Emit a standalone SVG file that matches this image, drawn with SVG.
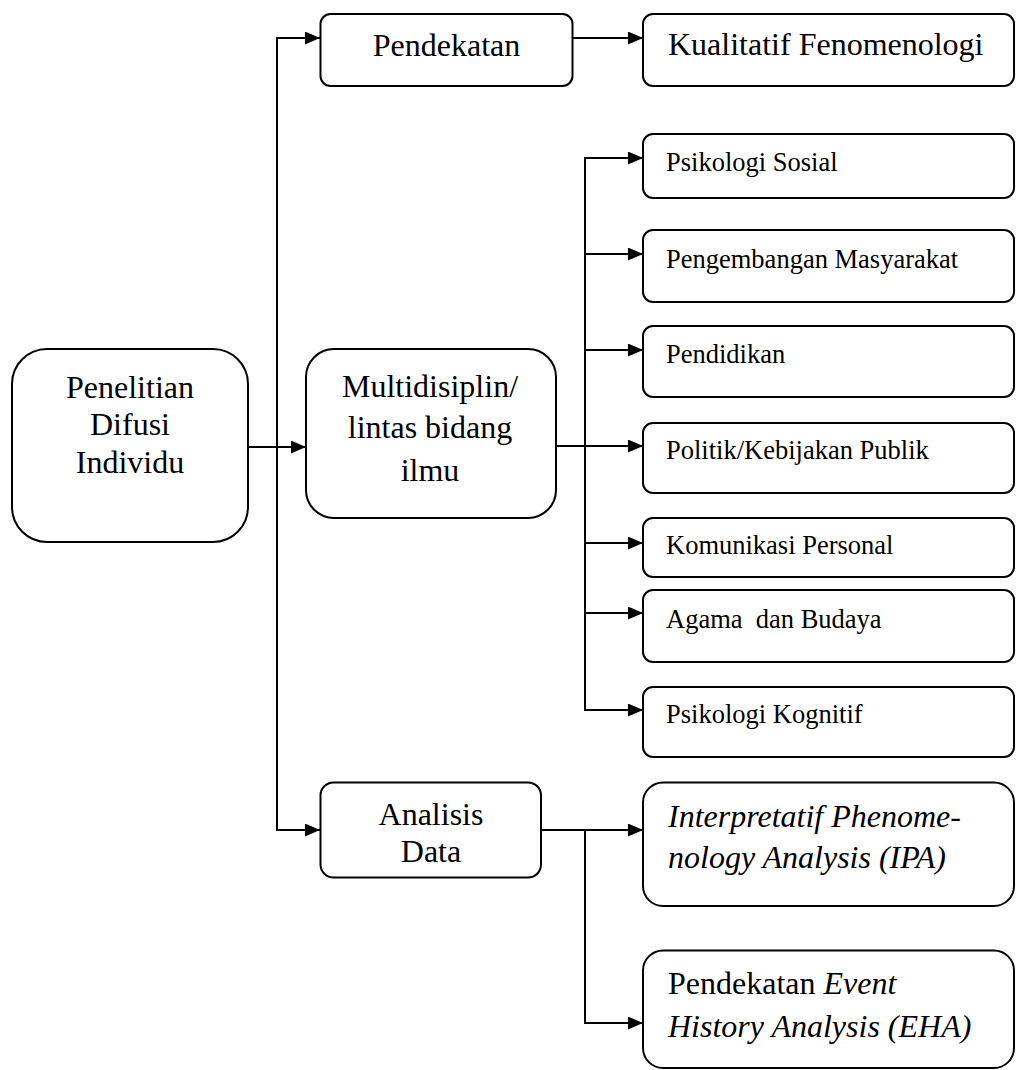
<svg xmlns="http://www.w3.org/2000/svg" width="1016" height="1070" viewBox="0 0 1016 1070">
<style>
.box{fill:#fff;stroke:#000;stroke-width:2}
.big{font-family:"Liberation Serif","Times New Roman",serif;font-size:32px;fill:#000}
.sm{font-family:"Liberation Serif","Times New Roman",serif;font-size:26.5px;fill:#000}
.c{text-anchor:middle}
.it{font-style:italic}
.ln{fill:none;stroke:#000;stroke-width:2}
.ar{fill:none;stroke:#000;stroke-width:2;marker-end:url(#ah)}
</style>
<defs>
<marker id="ah" markerUnits="userSpaceOnUse" markerWidth="15" markerHeight="13" refX="15" refY="6.5" orient="auto">
<path d="M0,0 L15,6.5 L0,13 Z" fill="#000"/>
</marker>
</defs>
<rect width="1016" height="1070" fill="#fff"/>
<g id="connectors">
<path class="ln" d="M277,38 V830"/>
<path class="ar" d="M276,38 H320"/>
<path class="ar" d="M248,447 H306"/>
<path class="ar" d="M276,830 H320"/>
<path class="ar" d="M571,38 H643"/>
<path class="ln" d="M585,158 V710"/>
<path class="ar" d="M584,158 H643"/>
<path class="ar" d="M584,254 H643"/>
<path class="ar" d="M584,350 H643"/>
<path class="ar" d="M556,446 H643"/>
<path class="ar" d="M584,543 H643"/>
<path class="ar" d="M584,613 H643"/>
<path class="ar" d="M584,710 H643"/>
<path class="ar" d="M541,830 H643"/>
<path class="ar" d="M585,830 V1023 H643"/>
</g>
<g id="root">
<rect class="box" x="12" y="349" width="236" height="193" rx="35"/>
<text class="big c" x="130" y="398">Penelitian</text>
<text class="big c" x="130" y="435">Difusi</text>
<text class="big c" x="130" y="473">Individu</text>
</g>
<g id="pendekatan">
<rect class="box" x="320.5" y="14" width="252" height="72" rx="10"/>
<text class="big c" x="446.5" y="56">Pendekatan</text>
</g>
<g id="kualitatif">
<rect class="box" x="643" y="14" width="371" height="72" rx="10"/>
<text class="big" x="668" y="55">Kualitatif Fenomenologi</text>
</g>
<g id="multidisiplin">
<rect class="box" x="306" y="349" width="250" height="169" rx="28"/>
<text class="big c" x="430" y="397">Multidisiplin/</text>
<text class="big c" x="430" y="438">lintas bidang</text>
<text class="big c" x="430" y="481">ilmu</text>
</g>
<g id="psikologi-sosial">
<rect class="box" x="643" y="134" width="371" height="64" rx="10"/>
<text class="sm" x="666" y="171">Psikologi Sosial</text>
</g>
<g id="pengembangan">
<rect class="box" x="643" y="230" width="371" height="72" rx="10"/>
<text class="sm" x="666" y="268">Pengembangan Masyarakat</text>
</g>
<g id="pendidikan">
<rect class="box" x="643" y="326" width="371" height="71" rx="10"/>
<text class="sm" x="666" y="363">Pendidikan</text>
</g>
<g id="politik">
<rect class="box" x="643" y="423" width="371" height="70" rx="10"/>
<text class="sm" x="666" y="459">Politik/Kebijakan Publik</text>
</g>
<g id="komunikasi">
<rect class="box" x="643" y="518" width="371" height="59" rx="10"/>
<text class="sm" x="666" y="554">Komunikasi Personal</text>
</g>
<g id="agama">
<rect class="box" x="643" y="590" width="371" height="72" rx="10"/>
<text class="sm" x="666" y="628" style="white-space:pre">Agama  dan Budaya</text>
</g>
<g id="psikologi-kognitif">
<rect class="box" x="643" y="687" width="371" height="70" rx="10"/>
<text class="sm" x="666" y="723">Psikologi Kognitif</text>
</g>
<g id="analisis">
<rect class="box" x="320.5" y="782.5" width="220.5" height="95" rx="13"/>
<text class="big c" x="431" y="825">Analisis</text>
<text class="big c" x="431" y="862">Data</text>
</g>
<g id="ipa">
<rect class="box" x="643" y="782.5" width="371" height="123.5" rx="20"/>
<text class="big it" x="668" y="827">Interpretatif Phenome-</text>
<text class="big it" x="668" y="868">nology Analysis (IPA)</text>
</g>
<g id="eha">
<rect class="box" x="643" y="950.5" width="371" height="117.5" rx="20"/>
<text class="big" x="668" y="994">Pendekatan <tspan class="it">Event</tspan></text>
<text class="big it" x="668" y="1037">History Analysis (EHA)</text>
</g>
</svg>
